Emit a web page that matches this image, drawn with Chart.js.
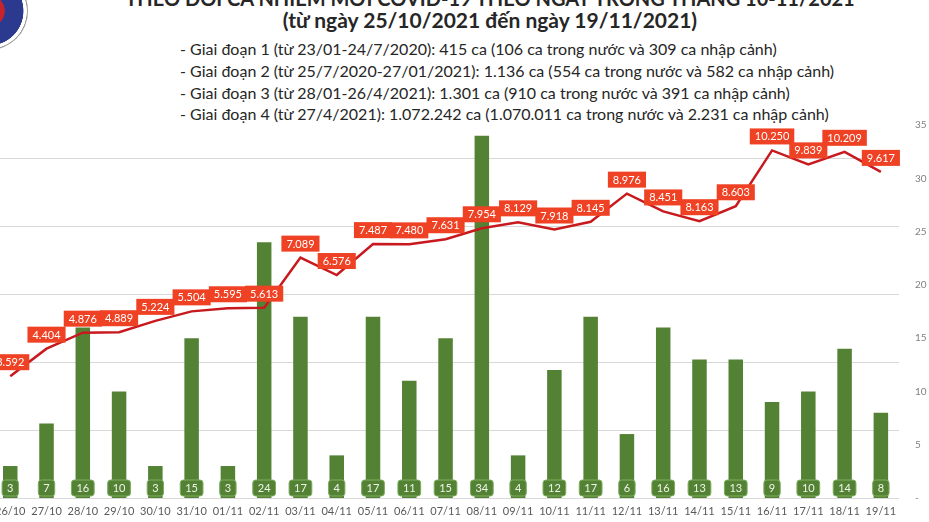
<!DOCTYPE html>
<html lang="vi">
<head>
<meta charset="utf-8">
<script src="https://cdn.jsdelivr.net/npm/chart.js@4.4.1/dist/chart.umd.min.js"></script>
<style>
  html, body { margin: 0; padding: 0; background: #fff; overflow: hidden; }
  body { width: 929px; height: 522px; position: relative; font-family: Lato, "Open Sans", sans-serif; color: #262626; }
  .logo {
    position: absolute; left: -50px; top: -28px; width: 78px; height: 78px; border-radius: 50%;
    background: radial-gradient(circle at 50% 50%, #c8232c 0 28%, #2b3a8f 29% 62%, #fff 63% 68%, #9a9a9a 69% 71%, #fff 72% 75%, #9a9a9a 76% 78%, #fff 79%);
  }
  .t0, .t1 { position: absolute; left: 0; width: 980px; text-align: center; font-weight: 700; white-space: nowrap; }
  .t0 { top: -14px; font-size: 20px; line-height: 24px; }
  .t1 { top: 8px; font-size: 21px; line-height: 24px; }
  .bul { position: absolute; left: 180px; font-size: 16px; line-height: 20px; white-space: nowrap; }
  #wrap { position: absolute; left: -12px; top: 0; width: 941px; height: 522px; }
</style>
</head>
<body>
<div class="logo"></div>
<div class="t0">THEO DÕI CA NHIỄM MỚI COVID-19 THEO NGÀY TRONG THÁNG 10-11/2021</div>
<div class="t1">(từ ngày 25/10/2021 đến ngày 19/11/2021)</div>
<div class="bul" style="top:39px">- Giai đoạn 1 (từ 23/01-24/7/2020): 415 ca (106 ca trong nước và 309 ca nhập cảnh)</div>
<div class="bul" style="top:61px">- Giai đoạn 2 (từ 25/7/2020-27/01/2021): 1.136 ca (554 ca trong nước và 582 ca nhập cảnh)</div>
<div class="bul" style="top:83px">- Giai đoạn 3 (từ 28/01-26/4/2021): 1.301 ca (910 ca trong nước và 391 ca nhập cảnh)</div>
<div class="bul" style="top:104px">- Giai đoạn 4 (từ 27/4/2021): 1.072.242 ca (1.070.011 ca trong nước và 2.231 ca nhập cảnh)</div>
<div id="wrap"><canvas id="c" width="941" height="522"></canvas></div>

<script>
// Ngày (26/10 – 19/11/2021)
const days = ['26/10', '27/10', '28/10', '29/10', '30/10', '31/10', '01/11', '02/11', '03/11', '04/11',
  '05/11', '06/11', '07/11', '08/11', '09/11', '10/11', '11/11', '12/11', '13/11', '14/11',
  '15/11', '16/11', '17/11', '18/11', '19/11'];

// Ca nhập cảnh theo ngày (cột xanh, trục phải)
const imported = [3, 7, 16, 10, 3, 15, 3, 24, 17, 4, 17, 11, 15, 34, 4, 12, 17, 6, 16, 13, 13, 9, 10, 14, 8];

// Ca mắc mới theo ngày (đường đỏ)
const daily = [3592, 4404, 4876, 4889, 5224, 5504, 5595, 5613, 7089, 6576, 7487, 7480, 7631, 7954,
  8129, 7918, 8145, 8976, 8451, 8163, 8603, 10250, 9839, 10209, 9617];

const rightTicks = [0, 5, 10, 15, 20, 25, 30, 35];

const FONT = 'Lato, "Open Sans", sans-serif';
const GREEN = '#548235';
const RED_BOX = '#EF4123';
const RED_LINE = '#C8191E';

// Số kiểu Việt Nam: 10250 -> 10.250
const vn = (n) => String(n).replace(/\B(?=(\d{3})+(?!\d))/g, '.');

function roundRect(ctx, x, y, w, h, r) {
  ctx.beginPath();
  ctx.moveTo(x + r, y);
  ctx.lineTo(x + w - r, y);
  ctx.quadraticCurveTo(x + w, y, x + w, y + r);
  ctx.lineTo(x + w, y + h - r);
  ctx.quadraticCurveTo(x + w, y + h, x + w - r, y + h);
  ctx.lineTo(x + r, y + h);
  ctx.quadraticCurveTo(x, y + h, x, y + h - r);
  ctx.lineTo(x, y + r);
  ctx.quadraticCurveTo(x, y, x + r, y);
  ctx.closePath();
}

// Nhãn số: hộp xanh dưới chân cột, hộp đỏ trên đường
const labelPlugin = {
  id: 'labels',
  afterDatasetsDraw(chart) {
    const ctx = chart.ctx;
    ctx.save();
    ctx.font = '11px ' + FONT;
    ctx.textAlign = 'center';
    ctx.textBaseline = 'middle';

    const bars = chart.getDatasetMeta(0).data;
    const yBottom = chart.scales.x.top;
    bars.forEach((b, i) => {
      const txt = String(imported[i]);
      const w = ctx.measureText(txt).width + 10;
      const cy = yBottom - 10;
      roundRect(ctx, b.x - w / 2, cy - 8, w, 16, 3);
      ctx.fillStyle = GREEN;
      ctx.fill();
      ctx.strokeStyle = '#7fae5f';
      ctx.lineWidth = 1;
      ctx.stroke();
      ctx.fillStyle = '#eef4ea';
      ctx.fillText(txt, b.x, cy + 0.5);
    });

    const pts = chart.getDatasetMeta(1).data;
    pts.forEach((p, i) => {
      const txt = vn(daily[i]);
      const w = ctx.measureText(txt).width + 10;
      const cy = p.y - 14;
      ctx.fillStyle = RED_BOX;
      ctx.fillRect(p.x - w / 2, cy - 8, w, 16);
      ctx.fillStyle = '#fff';
      ctx.fillText(txt, p.x, cy + 0.5);
    });
    ctx.restore();
  },
};

new Chart(document.getElementById('c'), {
  type: 'bar',
  data: {
    labels: days,
    datasets: [
      {
        label: 'Nhập cảnh',
        data: imported,
        yAxisID: 'yBar',
        backgroundColor: GREEN,
        borderWidth: 0,
        categoryPercentage: 0.8,
        barPercentage: 0.5,
        order: 2,
      },
      {
        label: 'Ca mắc mới',
        type: 'line',
        data: daily,
        yAxisID: 'yLine',
        borderColor: RED_LINE,
        borderWidth: 2.5,
        pointRadius: 0,
        tension: 0,
        fill: false,
        order: 1,
      },
    ],
  },
  options: {
    responsive: false,
    animation: false,
    events: [],
    layout: { padding: { top: 125, right: 0, bottom: 0, left: 0 } },
    plugins: { legend: { display: false }, tooltip: { enabled: false } },
    scales: {
      x: {
        offset: true,
        grid: { display: false, drawTicks: false },
        border: { display: false },
        ticks: { color: '#595959', font: { family: FONT, size: 11 }, padding: 7, maxRotation: 0, autoSkip: false },
        afterFit: (s) => { s.height = 24; },
      },
      yLine: {
        position: 'left',
        min: 0,
        max: 11000,
        ticks: { display: false, stepSize: 1000 },
        grid: {
          drawTicks: false,
          color: (c) => (c.tick && c.tick.value % 2000 === 0 && c.tick.value < 11000 ? '#d9d9d9' : 'rgba(0,0,0,0)'),
        },
        border: { display: false },
        afterFit: (s) => { s.width = 0; },
      },
      yBar: {
        position: 'right',
        min: 0,
        max: 35,
        afterBuildTicks: (s) => { s.ticks = rightTicks.map((v) => ({ value: v })); },
        ticks: {
          color: '#808080',
          font: { family: FONT, size: 10 },
          padding: 16,
          callback: (v) => (v === 0 ? '-' : v),
        },
        grid: { display: false, drawTicks: false },
        border: { display: false },
        afterFit: (s) => { s.width = 30; },
      },
    },
  },
  plugins: [labelPlugin],
});
</script>
</body>
</html>
